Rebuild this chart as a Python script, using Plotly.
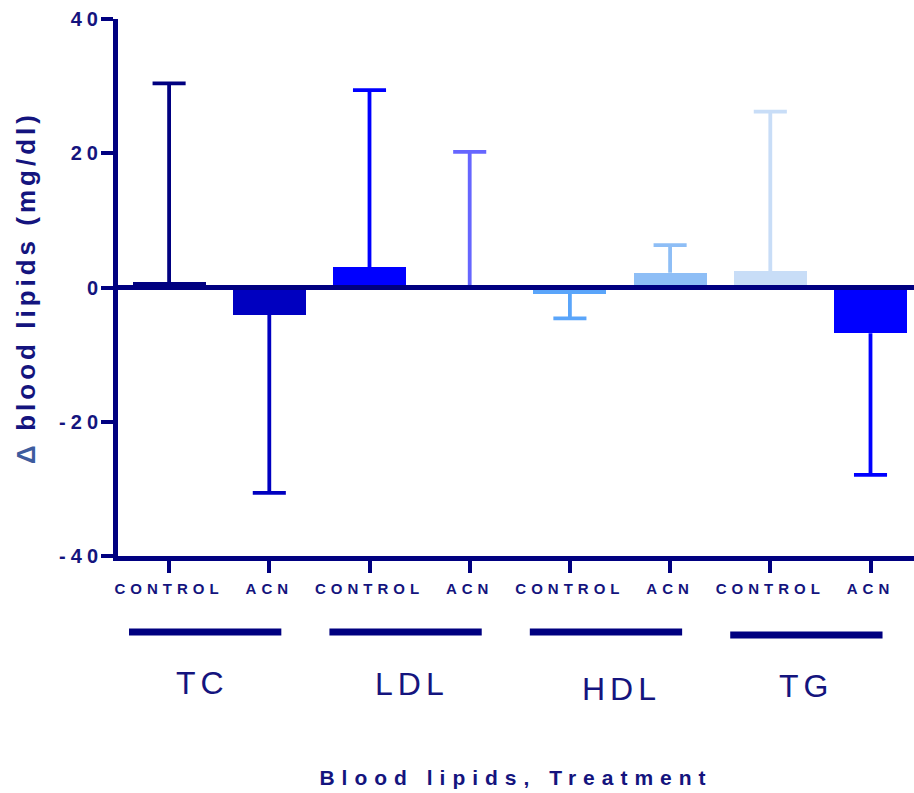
import plotly.graph_objects as go

# Change in blood lipids per lipid and treatment arm (mg/dl)
groups = ["TC", "LDL", "HDL", "TG"]
treatments = ["CONTROL", "ACN", "CONTROL", "ACN", "CONTROL", "ACN", "CONTROL", "ACN"]
mean_change = [0.8, -4.1, 3.0, 0.2, -0.9, 2.2, 2.4, -6.8]
sd_change = [29.6, 26.5, 26.4, 20.0, 3.7, 4.1, 23.8, 21.1]
y_ticks = [-40, -20, 0, 20, 40]

bar_colors = ["#000080", "#0000C0", "#0000FF", "#6666FF",
              "#5AA5FA", "#8EBEF6", "#C8DDF7", "#0000FF"]

NAVY = "#000080"
TEXT = "#14147E"
FONT = "Liberation Sans"

# plot-area geometry in pixels
W, H = 914, 793
L, R, T, B = 118, 0, 19, 237
plot_h = H - T - B


def spaced(text, px):
    return f'<span style="letter-spacing:{px}px">{text}</span>'


def paper_y(px):
    return 1 - (px - T) / plot_h


x_pos = list(range(len(treatments)))

fig = go.Figure()
fig.add_trace(go.Bar(
    x=x_pos, y=mean_change, width=0.73,
    marker=dict(color=bar_colors, line=dict(width=0)),
    hoverinfo="skip", showlegend=False,
))

# one-sided SD whiskers pointing away from zero
cap = 0.165
for i, (m, s, c) in enumerate(zip(mean_change, sd_change, bar_colors)):
    tip = m + s if m >= 0 else m - s
    fig.add_trace(go.Scatter(
        x=[i, i, None, i - cap, i + cap],
        y=[m, tip, None, tip, tip],
        mode="lines", line=dict(color=c, width=3.8),
        hoverinfo="skip", showlegend=False,
    ))

# zero line drawn over the bars
fig.add_shape(type="line", xref="paper", yref="y", x0=0, x1=1, y0=0, y1=0,
              line=dict(color=NAVY, width=5), layer="above")

# group brackets and labels under the treatment labels
bracket_y_px = [632, 632, 632, 635]
label_y_px = [683, 684, 689, 686]
label_shift = [-0.03, 0.06, 0.15, 0.0]
for g, name in enumerate(groups):
    x0, x1 = 2 * g - 0.4, 2 * g + 1.12
    fig.add_shape(type="line", xref="x", yref="paper", x0=x0, x1=x1,
                  y0=paper_y(bracket_y_px[g]), y1=paper_y(bracket_y_px[g]),
                  line=dict(color=NAVY, width=7))
    fig.add_annotation(x=(x0 + x1) / 2 + label_shift[g], xref="x",
                       y=paper_y(label_y_px[g]), yref="paper",
                       text=spaced(name, 5), showarrow=False,
                       font=dict(family=FONT, size=32, color=TEXT),
                       xanchor="center", yanchor="middle")

fig.update_layout(
    width=W, height=H,
    margin=dict(l=L, r=R, t=T, b=B, pad=0),
    plot_bgcolor="white", paper_bgcolor="white",
    bargap=0,
    xaxis=dict(
        range=[-0.51, -0.51 + (W - L) / 100.2],
        tickvals=x_pos, ticktext=[spaced(t, 5) for t in treatments],
        tickfont=dict(family=FONT, size=15, color=TEXT, weight="bold"),
        ticks="outside", ticklen=12, tickwidth=4, tickcolor=NAVY,
        ticklabelstandoff=3,
        showline=True, linecolor=NAVY, linewidth=5,
        showgrid=False, zeroline=False, fixedrange=True,
        title=dict(text=spaced("Blood lipids, Treatment", 7),
                   font=dict(family=FONT, size=21, color=TEXT, weight="bold"),
                   standoff=176),
    ),
    yaxis=dict(
        range=[-40, 40],
        tickvals=y_ticks, ticktext=[spaced(str(v), 5) for v in y_ticks],
        tickfont=dict(family=FONT, size=20, color=TEXT, weight="bold"),
        ticks="outside", ticklen=12, tickwidth=4, tickcolor=NAVY,
        ticklabelstandoff=-6,
        showline=True, linecolor=NAVY, linewidth=5,
        showgrid=False, zeroline=False, fixedrange=True,
        title=dict(text='<span style="fill:#3D5C9E">Δ</span>  ' + spaced("blood lipids (mg/dl)", 4),
                   font=dict(family=FONT, size=26, color=TEXT, weight="bold"),
                   standoff=17),
    ),
)

fig.write_html("out.html")
